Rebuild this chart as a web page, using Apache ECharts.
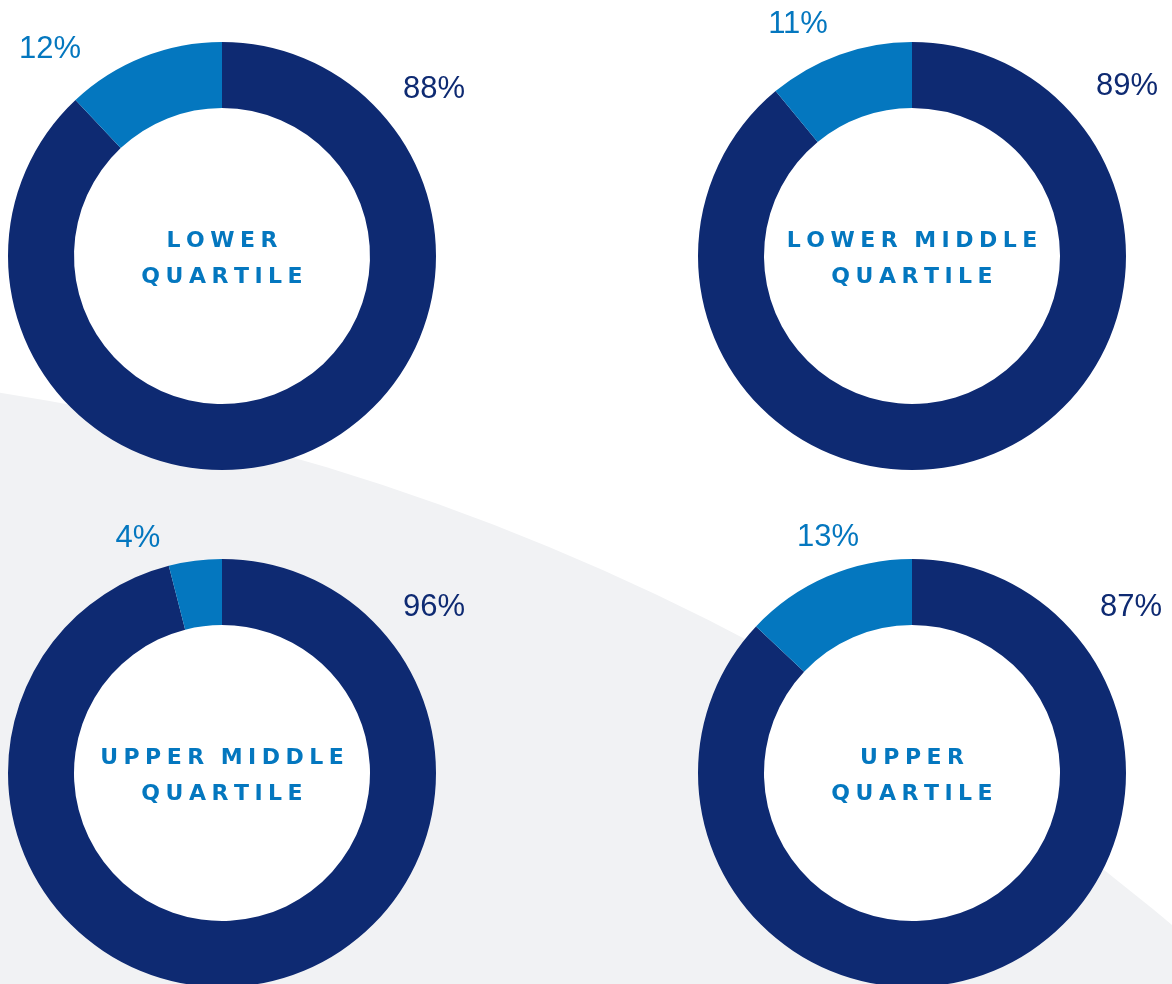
<!DOCTYPE html>
<html>
<head>
<meta charset="utf-8">
<title>Quartile pay bands</title>
<script src="https://cdn.jsdelivr.net/npm/echarts@6/dist/echarts.min.js"></script>
<style>
  html, body { margin: 0; padding: 0; background: #ffffff; }
  #chart { width: 1172px; height: 984px; }
</style>
</head>
<body>
<div id="chart"></div>
<script>
// Share of each quartile, split into the two groups (percent)
const quartileNames = ['Lower quartile', 'Lower middle quartile', 'Upper middle quartile', 'Upper quartile'];
const centerLines = [
  ['LOWER', 'QUARTILE'],
  ['LOWER MIDDLE', 'QUARTILE'],
  ['UPPER MIDDLE', 'QUARTILE'],
  ['UPPER', 'QUARTILE']
];
const groupNames = ['Group A', 'Group B'];
const groupAShare = [88, 89, 96, 87];
const groupBShare = [12, 11, 4, 13];

// Layout and styling
const NAVY = '#0e2a72';
const BLUE = '#0477bf';
const centers = [[222, 256], [912, 256], [222, 773], [912, 773]];
const ringRadius = [148, 214];
const labelSpots = [
  [[434, 89], [50, 49]],
  [[1127, 86], [798, 24]],
  [[434, 607], [138, 538]],
  [[1131, 607], [828, 537]]
];

// Wide tracking for the ring captions
function track(word) {
  return word.split(' ').map(w => w.split('').join('\u2005')).join('\u2002\u2005');
}

const chart = echarts.init(document.getElementById('chart'), null, { renderer: 'canvas' });

const series = quartileNames.map((name, i) => ({
  type: 'pie',
  name: name,
  center: centers[i],
  radius: ringRadius,
  startAngle: 90,
  clockwise: true,
  silent: true,
  avoidLabelOverlap: false,
  emphasis: { disabled: true },
  itemStyle: { borderWidth: 0 },
  label: {
    show: true,
    position: 'outside',
    formatter: p => p.value + '%',
    fontFamily: '"Liberation Sans", Arial, sans-serif',
    fontSize: 31,
    fontWeight: 'normal'
  },
  labelLine: { show: false },
  labelLayout: params => {
    const spot = labelSpots[params.seriesIndex][params.dataIndex];
    return { x: spot[0], y: spot[1], align: 'center', verticalAlign: 'middle' };
  },
  data: [
    { name: groupNames[0], value: groupAShare[i], itemStyle: { color: NAVY }, label: { color: NAVY } },
    { name: groupNames[1], value: groupBShare[i], itemStyle: { color: BLUE }, label: { color: BLUE } }
  ]
}));

const titles = centerLines.map((lines, i) => ({
  text: lines.map(track).join('\n'),
  left: centers[i][0],
  top: centers[i][1] - 2,
  padding: [5, 0, 5, 0],
  textAlign: 'center',
  textVerticalAlign: 'middle',
  textStyle: {
    color: BLUE,
    fontFamily: '"DejaVu Sans", sans-serif',
    fontWeight: 'bold',
    fontSize: 22,
    lineHeight: 36
  }
}));

// Backdrop arc plus a white disc filling each ring's hole
const backdrop = [{
  type: 'circle',
  z: -10,
  silent: true,
  shape: { cx: -370, cy: 2764, r: 2400 },
  style: { fill: '#f1f2f4' }
}].concat(centers.map(c => ({
  type: 'circle',
  z: -5,
  silent: true,
  shape: { cx: c[0], cy: c[1], r: ringRadius[0] + 1 },
  style: { fill: '#ffffff' }
})));

chart.setOption({
  backgroundColor: '#ffffff',
  animation: false,
  title: titles,
  graphic: backdrop,
  series: series
});
</script>
</body>
</html>
